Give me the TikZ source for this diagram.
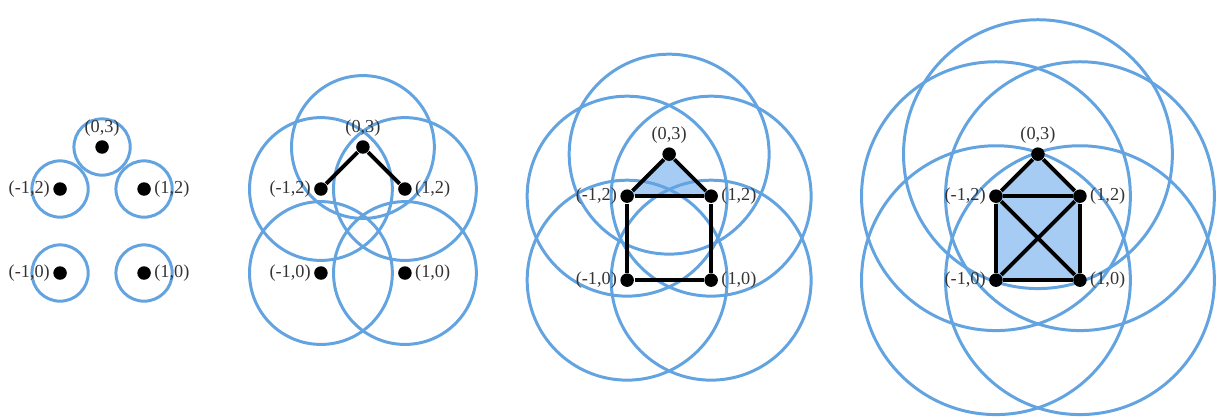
\documentclass[tikz,border=0pt]{standalone}
\usepackage{fontspec}
\setmainfont{Liberation Serif}
\usetikzlibrary{backgrounds}
\definecolor{ringblue}{RGB}{98,163,224}
\definecolor{cellblue}{RGB}{166,204,244}

\begin{document}
\begin{tikzpicture}[x=0.42cm,y=0.42cm,
  pt/.style={circle,fill=black,inner sep=0pt,minimum size=0.135cm},
  ball/.style={draw=ringblue,line width=0.85pt},
  edge/.style={line width=1.1pt},
  cell/.style={fill=cellblue},
  every label/.style={font=\fontsize{5.2}{6}\selectfont,text=black!80,inner sep=0.6pt}]
\useasboundingbox (0,0) rectangle (29.02,9.93);

\begin{scope}[shift={(2.43,3.43)}]
\node[pt,label=above:{(0,3)}] (a1) at (0,3) {};
\node[pt,label=left:{(-1,2)}] (a2) at (-1,2) {};
\node[pt,label=right:{(1,2)}] (a3) at (1,2) {};
\node[pt,label=left:{(-1,0)}] (a4) at (-1,0) {};
\node[pt,label=right:{(1,0)}] (a5) at (1,0) {};
\begin{pgfonlayer}{background}
\draw[ball] (a1.center) circle (0.67);
\draw[ball] (a2.center) circle (0.67);
\draw[ball] (a3.center) circle (0.67);
\draw[ball] (a4.center) circle (0.67);
\draw[ball] (a5.center) circle (0.67);
\end{pgfonlayer}
\end{scope}

\begin{scope}[shift={(8.64,3.43)}]
\node[pt,label=above:{(0,3)}] (b1) at (0,3) {};
\node[pt,label=left:{(-1,2)}] (b2) at (-1,2) {};
\node[pt,label=right:{(1,2)}] (b3) at (1,2) {};
\node[pt,label=left:{(-1,0)}] (b4) at (-1,0) {};
\node[pt,label=right:{(1,0)}] (b5) at (1,0) {};
\begin{pgfonlayer}{background}
\draw[ball] (b1.center) circle (1.7);
\draw[ball] (b2.center) circle (1.7);
\draw[ball] (b3.center) circle (1.7);
\draw[ball] (b4.center) circle (1.7);
\draw[ball] (b5.center) circle (1.7);
\end{pgfonlayer}
\draw[edge] (b2) -- (b1) -- (b3);
\end{scope}

\begin{scope}[shift={(15.93,3.26)}]
\node[pt,label=above:{(0,3)}] (c1) at (0,3) {};
\node[pt,label=left:{(-1,2)}] (c2) at (-1,2) {};
\node[pt,label=right:{(1,2)}] (c3) at (1,2) {};
\node[pt,label=left:{(-1,0)}] (c4) at (-1,0) {};
\node[pt,label=right:{(1,0)}] (c5) at (1,0) {};
\begin{pgfonlayer}{background}
\fill[cell] (c1.center) -- (c2.center) -- (c3.center) -- cycle;
\draw[ball] (c1.center) circle (2.38);
\draw[ball] (c2.center) circle (2.38);
\draw[ball] (c3.center) circle (2.38);
\draw[ball] (c4.center) circle (2.38);
\draw[ball] (c5.center) circle (2.38);
\end{pgfonlayer}
\draw[edge] (c2) -- (c1) -- (c3);
\draw[edge] (c2) -- (c3);
\draw[edge] (c2) -- (c4) -- (c5) -- (c3);
\end{scope}

\begin{scope}[shift={(24.71,3.26)}]
\node[pt,label=above:{(0,3)}] (d1) at (0,3) {};
\node[pt,label=left:{(-1,2)}] (d2) at (-1,2) {};
\node[pt,label=right:{(1,2)}] (d3) at (1,2) {};
\node[pt,label=left:{(-1,0)}] (d4) at (-1,0) {};
\node[pt,label=right:{(1,0)}] (d5) at (1,0) {};
\begin{pgfonlayer}{background}
\fill[cell] (d1.center) -- (d2.center) -- (d4.center) -- (d5.center) -- (d3.center) -- cycle;
\draw[ball] (d1.center) circle (3.2);
\draw[ball] (d2.center) circle (3.2);
\draw[ball] (d3.center) circle (3.2);
\draw[ball] (d4.center) circle (3.2);
\draw[ball] (d5.center) circle (3.2);
\end{pgfonlayer}
\draw[edge] (d2) -- (d1) -- (d3);
\draw[edge] (d2) -- (d3);
\draw[edge] (d2) -- (d4) -- (d5) -- (d3);
\draw[edge] (d2) -- (d5);
\draw[edge] (d3) -- (d4);
\end{scope}
\end{tikzpicture}
\end{document}
